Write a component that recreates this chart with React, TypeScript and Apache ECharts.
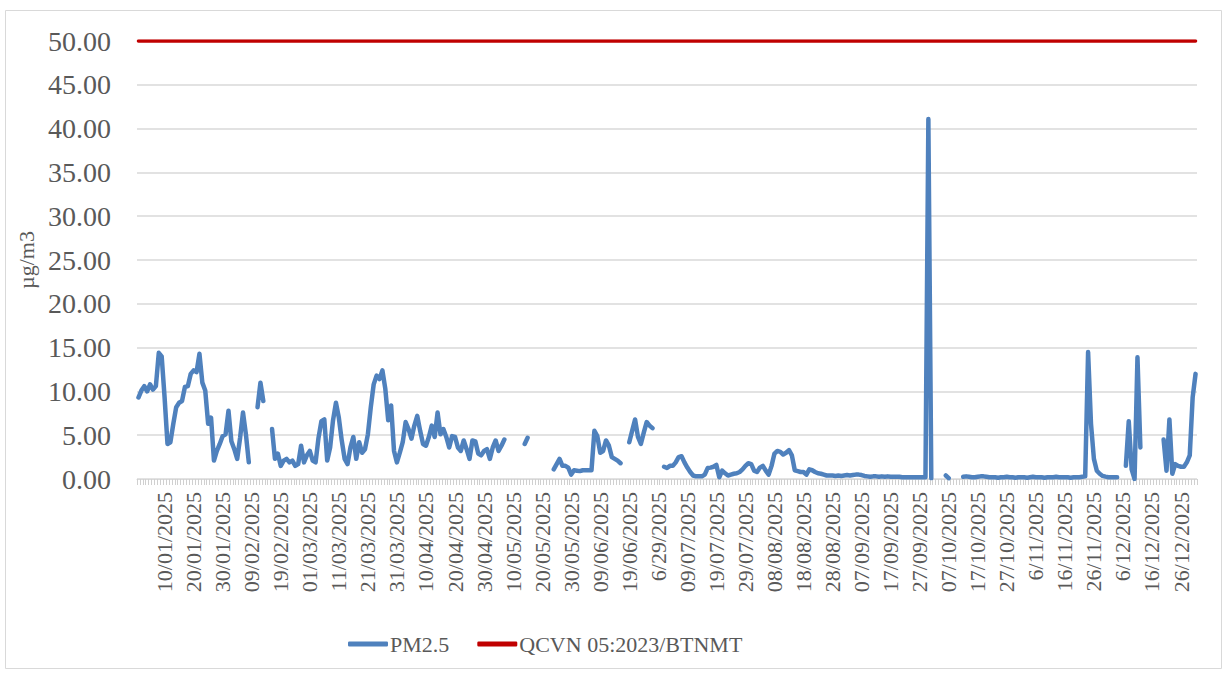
import React, { useEffect, useRef } from "react";
import * as echarts from "echarts";

// PM2.5 daily values (µg/m3), 2025, by month; null = no data
const pm25Jan = [9.3, 10.1, 10.6, 10.0, 10.8, 10.2, 10.6, 14.4, 14.0, 9.3, 4.0, 4.2, 6.3, 8.2, 8.7, 8.9, 10.5, 10.6, 12.0, 12.4, 12.2, 14.3, 11.0, 10.1, 6.3, 7.0, 2.1, 3.2, 4.0, 4.9, 5.1];
const pm25Feb = [7.8, 4.3, 3.4, 2.3, 4.7, 7.6, 5.1, 1.9, null, null, 8.2, 11.0, 8.9, null, null, 5.7, 2.3, 2.9, 1.5, 2.1, 2.3, 1.9, 2.1, 1.5, 1.7, 3.8, 1.9, 2.7];
const pm25Mar = [3.2, 2.1, 1.9, 4.7, 6.6, 6.8, 2.1, 3.6, 6.7, 8.7, 7.0, 4.4, 2.3, 1.7, 3.6, 4.8, 2.3, 4.2, 3.0, 3.4, 5.1, 8.2, 10.8, 11.8, 11.4, 12.4, 10.3, 6.7, 8.4, 3.2, 1.9];
const pm25Apr = [3.0, 4.2, 6.5, 5.7, 4.6, 6.1, 7.2, 5.5, 4.0, 3.8, 4.8, 6.1, 4.8, 7.6, 5.1, 5.7, 4.8, 3.6, 4.9, 4.8, 3.6, 3.2, 4.4, 3.4, 2.3, 4.4, 4.3, 2.9, 2.7, 3.2];
const pm25May = [3.4, 2.3, 3.6, 4.4, 3.2, 3.8, 4.5, null, null, null, null, null, null, 4.0, 4.7, null, null, null, null, null, null, null, null, 1.1, 1.7, 2.3, 1.5, 1.5, 1.3, 0.5, 1.0];
const pm25Jun = [0.95, 0.9, 1.0, 1.0, 1.0, 1.0, 5.5, 4.9, 3.0, 3.2, 4.4, 3.8, 2.5, 2.3, 2.1, 1.8, null, null, 4.2, 5.5, 6.8, 4.8, 4.0, 5.3, 6.5, 6.1, 5.8, null, null, null];
const pm25Jul = [1.4, 1.25, 1.5, 1.5, 1.9, 2.5, 2.6, 1.9, 1.3, 0.8, 0.4, 0.3, 0.3, 0.3, 0.5, 1.25, 1.3, 1.4, 1.6, 0.2, 0.95, 0.65, 0.4, 0.5, 0.6, 0.65, 0.8, 1.1, 1.5, 1.8, 1.7];
const pm25Aug = [0.95, 0.8, 1.3, 1.5, 0.95, 0.5, 1.5, 2.9, 3.2, 3.1, 2.8, 3.0, 3.3, 2.7, 1.0, 0.9, 0.8, 0.8, 0.5, 1.1, 1.0, 0.8, 0.65, 0.6, 0.5, 0.4, 0.4, 0.4, 0.35, 0.4, 0.35];
const pm25Sep = [0.4, 0.45, 0.4, 0.45, 0.5, 0.5, 0.45, 0.35, 0.3, 0.25, 0.3, 0.3, 0.25, 0.3, 0.25, 0.3, 0.25, 0.25, 0.25, 0.25, 0.2, 0.2, 0.2, 0.2, 0.2, 0.2, 0.2, 0.2, 0.2, 41.1];
const pm25Oct = [0.1, null, null, null, null, 0.4, 0.1, null, null, null, null, 0.25, 0.3, 0.25, 0.2, 0.2, 0.25, 0.3, 0.3, 0.25, 0.2, 0.2, 0.2, 0.15, 0.2, 0.2, 0.25, 0.2, 0.2, 0.15, 0.2];
const pm25Nov = [0.2, 0.2, 0.15, 0.2, 0.25, 0.2, 0.2, 0.2, 0.15, 0.2, 0.2, 0.2, 0.25, 0.2, 0.2, 0.2, 0.2, 0.15, 0.2, 0.2, 0.2, 0.25, 0.3, 14.5, 6.3, 2.3, 0.95, 0.6, 0.35, 0.27];
const pm25Dec = [0.2, 0.2, 0.2, 0.2, null, null, 1.5, 6.6, 1.1, 0.0, 13.9, 3.6, null, null, null, null, null, null, null, 4.5, 0.95, 6.8, 0.6, 1.7, 1.5, 1.4, 1.4, 1.9, 2.7, 9.3, 12.0];

const QCVN_LIMIT = 50;
const monthLengths = [31, 28, 31, 30, 31, 30, 31, 31, 30, 31, 30, 31];
// Labels typed differently in the source sheet
const labelOverrides: Record<number, string> = { 179: "6/29/2025", 309: "6/11/2025", 339: "6/12/2025" };

const yTicks = { min: 0, max: 50, interval: 5 };

const pad = (n: number) => (n < 10 ? "0" + n : String(n));
const categories: string[] = [];
monthLengths.forEach((len, m) => {
  for (let d = 1; d <= len; d++) categories.push(`${pad(d)}/${pad(m + 1)}/2025`);
});
Object.keys(labelOverrides).forEach((k) => {
  categories[Number(k)] = labelOverrides[Number(k)];
});

const pm25 = [
  ...pm25Jan, ...pm25Feb, ...pm25Mar, ...pm25Apr, ...pm25May, ...pm25Jun,
  ...pm25Jul, ...pm25Aug, ...pm25Sep, ...pm25Oct, ...pm25Nov, ...pm25Dec,
];
const qcvn = categories.map(() => QCVN_LIMIT);

const FONT = '"Liberation Serif", "Times New Roman", serif';
const TEXT = "#595959";

export default function App() {
  const ref = useRef<HTMLDivElement>(null);
  useEffect(() => {
    if (!ref.current) return;
    const chart = echarts.init(ref.current, undefined, { renderer: "svg" });
    chart.setOption({
      animation: false,
      backgroundColor: "#ffffff",
      textStyle: { fontFamily: FONT, color: TEXT },
      graphic: [
        {
          type: "rect",
          shape: { x: 5.5, y: 10.5, width: 1216, height: 658 },
          style: { fill: "none", stroke: "#d9d9d9", lineWidth: 1 },
          silent: true,
        },
      ],
      grid: { left: 137, right: 30, top: 41, bottom: 196, containLabel: false },
      legend: {
        left: 343,
        top: 628,
        itemWidth: 40,
        itemHeight: 5,
        itemGap: 28,
        icon: "roundRect",
        textStyle: { fontFamily: FONT, fontSize: 22, color: TEXT, padding: [0, 0, 0, -3] },
        data: ["PM2.5", "QCVN 05:2023/BTNMT"],
      },
      xAxis: {
        type: "category",
        data: categories,
        boundaryGap: true,
        axisLine: { lineStyle: { color: "#d9d9d9", width: 1 } },
        axisTick: { show: true, interval: 0, length: 6, lineStyle: { color: "#d0d0d0" } },
        axisLabel: {
          interval: (index: number) => index % 10 === 9,
          rotate: 90,
          margin: 13,
          fontFamily: FONT,
          fontSize: 22,
          color: TEXT,
        },
      },
      yAxis: {
        type: "value",
        min: yTicks.min,
        max: yTicks.max,
        interval: yTicks.interval,
        name: "µg/m3",
        nameLocation: "middle",
        nameGap: 100,
        nameTextStyle: { fontFamily: FONT, fontSize: 22, color: TEXT },
        axisLine: { show: false },
        axisTick: { show: false },
        splitLine: { lineStyle: { color: "#d9d9d9", width: 1.5 } },
        axisLabel: {
          formatter: (v: number) => v.toFixed(2),
          fontFamily: FONT,
          fontSize: 28,
          color: TEXT,
          margin: 26,
        },
      },
      series: [
        {
          name: "PM2.5",
          type: "line",
          data: pm25,
          showSymbol: false,
          connectNulls: false,
          color: "#4f81bd",
          lineStyle: { color: "#4f81bd", width: 4.5, cap: "round", join: "round" },
          z: 3,
        },
        {
          name: "QCVN 05:2023/BTNMT",
          type: "line",
          data: qcvn,
          showSymbol: false,
          color: "#c00000",
          lineStyle: { color: "#c00000", width: 3.5, cap: "round" },
          z: 2,
        },
      ],
    });
    return () => chart.dispose();
  }, []);
  return (
    <div
      ref={ref}
      style={{ position: "fixed", left: 0, top: 0, width: 1227, height: 675, background: "#fff" }}
    />
  );
}
